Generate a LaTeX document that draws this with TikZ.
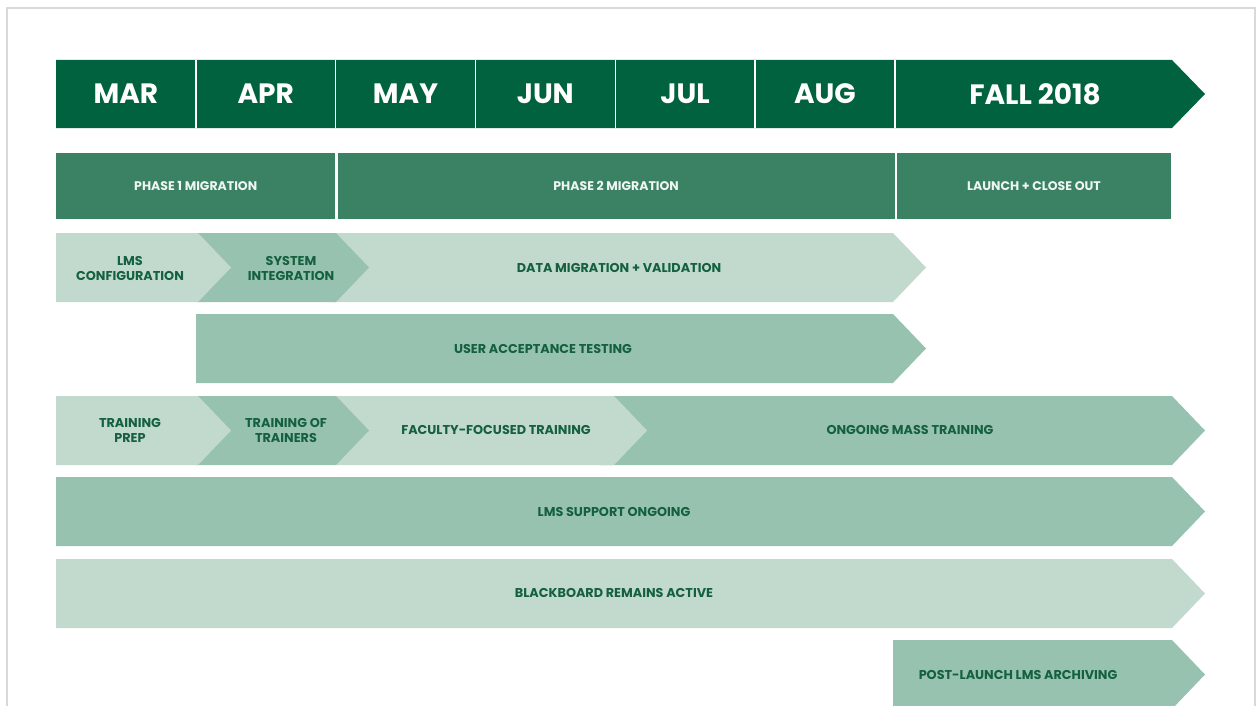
\documentclass[tikz,border=0pt]{standalone}
\usepackage{fontspec}
\setmainfont{Poppins}
\usetikzlibrary{positioning}

\definecolor{headgreen}{HTML}{00623F}
\definecolor{phasegreen}{HTML}{3A8263}
\definecolor{midgreen}{HTML}{98C2B0}
\definecolor{lightgreen}{HTML}{C2DACE}
\definecolor{labelgreen}{HTML}{14603F}
\definecolor{framegray}{HTML}{D9D9D9}

% bar with a pointed right end: left, body end, top, colour
\newcommand{\tagbar}[4]{%
  \fill[#4] (#1,#3) -- (#2,#3) -- (#2+33,#3+34.5) -- (#2,#3+69) -- (#1,#3+69) -- cycle;}

\begin{document}
\begin{tikzpicture}[
    x=1pt, y=-1pt,
    month/.style={minimum width=139.4pt, minimum height=68pt, inner sep=0pt,
                  text=white, font=\fontsize{28}{30}\selectfont\bfseries},
    phase/.style={fill=phasegreen, minimum height=66pt, inner sep=0pt,
                  text=white!92!phasegreen, font=\fontsize{12.5}{14}\selectfont\bfseries},
    task/.style={text=labelgreen, align=center, inner sep=0pt,
                 font=\fontsize{12.8}{15}\selectfont\bfseries},
    divider/.style={draw=white, line width=1.4pt}
]
\useasboundingbox (0,0) rectangle (1257,706);
\fill[white] (0,0) rectangle (1257,706);
\draw[framegray, line width=1.8pt] (7,720) -- (7,8) -- (1255,8) -- (1255,720);

% month header
\fill[headgreen] (56,60) -- (1172,60) -- (1205,94) -- (1172,128) -- (56,128) -- cycle;
\node (mar) [month, anchor=west] at (56,94) {MAR};
\node (apr) [month, right=0pt of mar] {APR};
\node (may) [month, right=0pt of apr] {MAY};
\node (jun) [month, right=0pt of may] {JUN};
\node (jul) [month, right=0pt of jun] {JUL};
\node (aug) [month, right=0pt of jul] {AUG};
\node (fall) [month, minimum width=280pt, right=0pt of aug] {FALL 2018};
\draw [divider] (mar.north east) -- (mar.south east);
\draw [divider] (apr.north east) -- (apr.south east);
\draw [divider] (may.north east) -- (may.south east);
\draw [divider] (jun.north east) -- (jun.south east);
\draw [divider] (jul.north east) -- (jul.south east);
\draw [divider] (aug.north east) -- (aug.south east);

% phases
\node (phase1) [phase, minimum width=279pt, anchor=north west] at (56,153) {PHASE 1 MIGRATION};
\node (phase2) [phase, minimum width=557pt, right=2pt of phase1] {PHASE 2 MIGRATION};
\node (launch) [phase, minimum width=274pt, right=2pt of phase2] {LAUNCH + CLOSE OUT};

% migration row
\tagbar{330}{893}{233}{lightgreen}
\tagbar{196}{336}{233}{midgreen}
\tagbar{56}{198}{233}{lightgreen}
\node (config) [task] at (130,268) {LMS\\CONFIGURATION};
\node (integr) [task] at (291,268) {SYSTEM\\INTEGRATION};
\node (datamig) [task] at (619,268) {DATA MIGRATION + VALIDATION};

% testing row
\tagbar{196}{893}{314}{midgreen}
\node (uat) [task] at (543,349) {USER ACCEPTANCE TESTING};

% training row
\tagbar{600}{1172}{396}{midgreen}
\tagbar{336}{614}{396}{lightgreen}
\tagbar{196}{336}{396}{midgreen}
\tagbar{56}{198}{396}{lightgreen}
\node (prep) [task] at (130,430) {TRAINING\\PREP};
\node (trainers) [task] at (286,430) {TRAINING OF\\TRAINERS};
\node (faculty) [task] at (496,430) {FACULTY-FOCUSED TRAINING};
\node (mass) [task] at (910,430) {ONGOING MASS TRAINING};

% ongoing rows
\tagbar{56}{1172}{477}{midgreen}
\node (support) [task] at (614,512) {LMS SUPPORT ONGOING};
\tagbar{56}{1172}{559}{lightgreen}
\node (blackboard) [task] at (614,593) {BLACKBOARD REMAINS ACTIVE};
\tagbar{893}{1172}{640}{midgreen}
\node (archive) [task] at (1018,675) {POST-LAUNCH LMS ARCHIVING};
\end{tikzpicture}
\end{document}
